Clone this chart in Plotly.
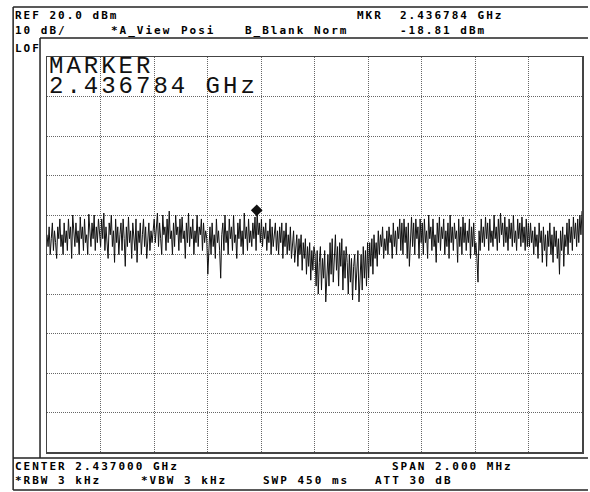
import numpy as np
import plotly.graph_objects as go

# ---- data (dBm, read per horizontal division of the 2 MHz span) ----
div0_dbm = [-25,-28,-23,-30,-26,-22,-29,-24,-27,-31, -23,-26,-21,-28,-25,-30,-22,-27,-24,-29,
            -21,-26,-23,-31,-20,-25,-28,-22,-27,-24, -30,-20.5,-26,-23,-29,-21,-27,-25,-30,-19.8,
            -24,-28,-22,-26,-20,-29,-23,-27,-21,-25]
div1_dbm = [-28,-21,-26,-19.5,-29,-23,-27,-31,-22,-25, -20,-28,-24,-32,-21,-27,-23,-30,-25,-22,
            -29,-21,-26,-33,-23,-28,-20.5,-27,-24,-31, -22,-26,-29,-21,-32,-24,-27,-22,-30,-25,
            -21,-28,-23,-31,-26,-22,-29,-24,-27,-23]
div2_dbm = [-21,-27,-24,-19.5,-28,-22,-26,-30,-20,-25, -23,-29,-21,-27,-19,-26,-24,-30,-22,-28,
            -20,-25,-23,-29,-21,-27,-20.5,-26,-24,-31, -22,-27,-19.5,-28,-23,-26,-21,-30,-24,-27,
            -20,-28,-23,-25,-21,-29,-22,-27,-24,-26]
div3_dbm = [-35,-27,-23,-30,-22,-28,-25,-31,-21,-27, -24,-29,-36,-25,-22,-29,-20,-27,-24,-30,
            -21,-26,-23,-29,-20,-27,-25,-31,-22,-26, -21,-28,-24,-30,-19.5,-26,-23,-29,-21,-27,
            -24,-28,-22,-26,-20.5,-29,-19.2,-25,-22,-27]
div4_dbm = [-21,-28,-23,-26,-22,-29,-24,-27,-21,-30, -23,-28,-25,-22,-29,-24,-30,-23,-27,-22,
            -31,-24,-28,-22,-30,-25,-29,-23,-31,-26, -24,-32,-27,-25,-33,-26,-30,-25,-34,-27,
            -31,-26,-35,-28,-33,-27,-36.5,-29,-34,-28]
div5_dbm = [-30,-38,-29,-40,-32,-28,-39,-31,-36,-29, -42,-33,-30,-38,-27,-35,-26,-37,-29,-25,
            -34,-28,-38,-27,-33,-26,-39,-29,-36,-28, -32,-40,-30,-37,-31,-41.5,-33,-30,-39,-32,
            -29,-42,-34,-30,-39,-28,-36,-29,-38,-27]
div6_dbm = [-36,-27,-33,-26,-35,-25,-31,-27,-33,-24, -30,-25,-28,-23,-31,-26,-29,-24,-30,-23,
            -27,-25,-31,-22,-28,-24,-30,-23,-26,-21, -29,-22,-30,-21,-27,-23,-31,-22,-33,-25,
            -20.5,-28,-22,-30,-21,-26,-23,-31,-21,-27]
div7_dbm = [-22,-30,-21,-27,-24,-31,-20,-26,-23,-29, -21,-28,-25,-32,-22,-27,-20.5,-29,-23,-26,
            -21,-30,-24,-28,-22,-31,-20,-27,-23,-29, -22,-26,-24,-32,-21,-28,-23,-30,-20.5,-27,
            -22,-29,-24,-27,-21,-31,-23,-28,-22,-30]
div8_dbm = [-27,-31,-37,-24,-29,-21,-27,-23,-28,-20.5, -26,-22,-29,-21,-27,-24,-28,-20,-26,-23,
            -29,-21,-27,-19.5,-25,-22,-28,-20.5,-27,-23, -29,-21,-26,-22,-28,-20,-27,-24,-29,-21,
            -26,-22,-28,-20.5,-27,-23,-29,-21,-28,-22]
div9_dbm = [-28,-22,-27,-24,-30,-23,-28,-25,-31,-22, -27,-24,-32,-23,-29,-25,-33,-24,-28,-22,
            -30,-25,-32,-23,-28,-24,-31,-26,-35,-24, -29,-23,-33,-25,-28,-22,-30,-21,-27,-23,
            -29,-20.5,-26,-22,-28,-21,-27,-20,-25,-19]

center_ghz = 2.437
span_ghz = 0.002
ref_dbm = 20.0
db_per_div = 10
marker_ghz = 2.436784
marker_dbm = -18.81

header_row1 = [("REF 20.0 dBm", 14), ("MKR", 357), ("2.436784 GHz", 400)]
header_row2 = [("10 dB/", 14), ("*A_View", 110), ("Posi", 180), ("B_Blank Norm", 245), ("-18.81 dBm", 400)]
footer_row1 = [("CENTER 2.437000 GHz", 14), ("SPAN 2.000 MHz", 392)]
footer_row2 = [("*RBW 3 kHz", 14), ("*VBW 3 kHz", 140), ("SWP 450 ms", 263), ("ATT 30 dB", 375)]
marker_lines = ["MARKER", "2.436784 GHz"]

trace_dbm = (div0_dbm + div1_dbm + div2_dbm + div3_dbm + div4_dbm +
             div5_dbm + div6_dbm + div7_dbm + div8_dbm + div9_dbm)
freq_ghz = np.linspace(center_ghz - span_ghz / 2, center_ghz + span_ghz / 2, len(trace_dbm))

# ---- layout geometry (pixels) ----
W, H = 590, 492
PX0, PX1, PY0, PY1 = 47, 584, 57, 452


def px(x):
    return (x - PX0) / (PX1 - PX0)


def py(y):
    return (PY1 - y) / (PY1 - PY0)


fig = go.Figure()
fig.add_trace(go.Scatter(x=freq_ghz, y=trace_dbm, mode="lines",
                         line=dict(color="#111111", width=1), hoverinfo="skip"))
fig.add_trace(go.Scatter(x=[marker_ghz], y=[marker_dbm], mode="markers",
                         marker=dict(symbol="diamond", size=9, color="#111111"),
                         hoverinfo="skip"))

axis_common = dict(showticklabels=False, ticks="", zeroline=False,
                   showgrid=True, gridcolor="#666666", griddash="1px,1px", gridwidth=1,
                   showline=True, mirror=True, linecolor="#444444", linewidth=1.5,
                   fixedrange=True)
fig.update_xaxes(range=[center_ghz - span_ghz / 2, center_ghz + span_ghz / 2],
                 dtick=span_ghz / 10, tick0=center_ghz - span_ghz / 2, **axis_common)
fig.update_yaxes(range=[ref_dbm - 10 * db_per_div, ref_dbm],
                 dtick=db_per_div, tick0=ref_dbm, **axis_common)

line_style = dict(color="#222222", width=1.5)
shapes = [
    dict(x0=px(13), x1=px(590), y0=py(7), y1=py(7)),
    dict(x0=px(13), x1=px(13), y0=py(7), y1=py(490)),
    dict(x0=px(40), x1=px(590), y0=py(38), y1=py(38)),
    dict(x0=px(40), x1=px(40), y0=py(38), y1=py(458)),
    dict(x0=px(13), x1=px(590), y0=py(458), y1=py(458)),
    dict(x0=px(13), x1=px(590), y0=py(490), y1=py(490)),
]
for s in shapes:
    fig.add_shape(type="line", xref="paper", yref="paper", line=line_style, **s)

small_font = dict(family="DejaVu Sans Mono", size=11, color="#000000", weight="bold")
big_font = dict(family="Liberation Mono", size=24, color="#111111")


def add_text(text, x, y, font, yanchor="middle"):
    fig.add_annotation(text=text, x=px(x), y=py(y), xref="paper", yref="paper",
                       xanchor="left", yanchor=yanchor, showarrow=False, align="left",
                       font=font, borderpad=0)


for t, x in header_row1:
    add_text(t, x, 16, small_font)
for t, x in header_row2:
    add_text(t, x, 30, small_font)
add_text("LOF", 14, 49, small_font)
for t, x in footer_row1:
    add_text(t, x, 466, small_font)
for t, x in footer_row2:
    add_text(t, x, 480, small_font)
add_text("<br>".join(marker_lines), 48, 52, big_font, yanchor="top")

fig.update_layout(width=W, height=H, margin=dict(l=PX0, r=W - PX1, t=PY0, b=H - PY1),
                  paper_bgcolor="white", plot_bgcolor="white", showlegend=False)

post = """
document.body.style.margin = '0';
document.body.style.padding = '0';
var gd = document.getElementById('{plot_id}');
gd.querySelectorAll('text.annotation-text').forEach(function(t){
  var fs = parseFloat(t.style.fontSize);
  var ls = fs >= 18 ? 3.0 : 2.0;
  var b0 = t.getBBox();
  t.setAttribute('text-anchor', 'start');
  t.style.letterSpacing = ls + 'px';
  t.setAttribute('x', b0.x);
  var lines = t.querySelectorAll('tspan.line');
  if (lines.length > 1) {
    lines.forEach(function(l, i){
      l.setAttribute('x', b0.x);
      if (i > 0) { l.setAttribute('dy', '20px'); }
    });
    var r = lines[0].getBoundingClientRect();
    var d = 66 - (r.top + r.height / 2);
    t.setAttribute('y', parseFloat(t.getAttribute('y') || 0) + d);
  }
});
"""
fig.write_html("out.html", post_script=post, config={"staticPlot": True})
